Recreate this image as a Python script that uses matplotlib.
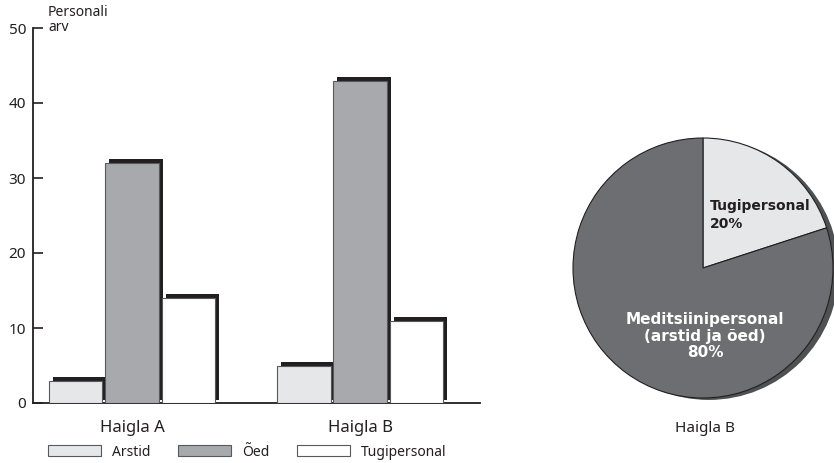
import numpy as np
import matplotlib
matplotlib.use("Agg")
import matplotlib.pyplot as plt
from matplotlib.patches import Patch, Circle

plt.rcParams["font.family"] = ["Noto Sans", "DejaVu Sans"]

# ------------------------------------------------------------
# Data
# ------------------------------------------------------------
hospitals = ["Haigla A", "Haigla B"]
series = ["Arstid", "Õed", "Tugipersonal"]
arstid = [3, 5]
oed = [32, 43]
tugi = [14, 11]

pie_labels = ["Tugipersonal\n20%", "Meditsiinipersonal\n(arstid ja õed)\n80%"]
pie_values = [20, 80]

bar_colors = ["#e6e7e8", "#a7a9ac", "#ffffff"]
dark = "#231f20"

W, H = 834, 463
fig = plt.figure(figsize=(W / 100, H / 100), dpi=100)

# ------------------------------------------------------------
# Bar chart
# ------------------------------------------------------------
ax = fig.add_axes([33 / W, 1 - 403 / H, (480 - 33) / W, (403 - 28) / H])
x = np.arange(len(hospitals))
width = 0.233
step = 0.246
dx = 4 / 228
dy = 4 / 7.5

for i, (vals, col) in enumerate(zip([arstid, oed, tugi], bar_colors)):
    pos = x + (i - 1) * step
    vals = np.array(vals, dtype=float)
    # shadow
    ax.bar(pos + dx, vals + dy - 0.4, width, bottom=0.4, color=dark,
           linewidth=0, align="center", zorder=2)
    ax.bar(pos, vals, width, color=col, edgecolor="#58595b",
           linewidth=0.8, zorder=3)

ax.set_xlim(-0.434, 1.526)
ax.set_ylim(0, 50)
ax.set_yticks(range(0, 51, 10))
ax.tick_params(axis="y", direction="in", length=7, width=1.2,
               color=dark, labelsize=11, pad=5, labelcolor=dark)
ax.set_xticks(x)
ax.set_xticklabels(hospitals)
ax.tick_params(axis="x", length=0, labelsize=12, pad=12, labelcolor=dark)
for s in ["top", "right"]:
    ax.spines[s].set_visible(False)
for s in ["left", "bottom"]:
    ax.spines[s].set_linewidth(1.3)
    ax.spines[s].set_color(dark)

fig.text(48 / W, 1 - 20 / H, "Personali\narv", fontsize=10, color=dark,
         ha="left", va="center", linespacing=0.95)

# legend
handles = [Patch(facecolor=c, edgecolor="#58595b", linewidth=0.8)
           for c in bar_colors]
fig.legend(handles, series, loc="center left",
           bbox_to_anchor=(48 / W, 1 - 452 / H), ncol=3, frameon=False,
           fontsize=10, handlelength=3.8, handleheight=0.85,
           handletextpad=0.8, columnspacing=2.0, borderpad=0,
           borderaxespad=0, labelcolor=dark)

# ------------------------------------------------------------
# Pie chart
# ------------------------------------------------------------
cx, cy, r = 703, 268, 130
pax = fig.add_axes([560 / W, 1 - 410 / H, (834 - 560) / W, 280 / H])
pax.axis("off")

pax.add_patch(Circle((0.045, -0.015), 1.0, facecolor="#505153",
                     edgecolor="none", zorder=1))
wedges, _ = pax.pie(pie_values, startangle=90, counterclock=False,
                    colors=["#e6e7e8", "#6d6e71"],
                    wedgeprops=dict(edgecolor=dark, linewidth=0.8))
for w in wedges:
    w.set_zorder(2)
pax.set_xlim((560 - cx) / r, (834 - cx) / r)
pax.set_ylim((cy - 410) / r, (cy - 130) / r)
pax.set_aspect("auto")

pax.text((710 - cx) / r, (cy - 215) / r, pie_labels[0], ha="left",
         va="center", fontsize=10, fontweight="bold", color=dark,
         family=["DejaVu Sans"], zorder=3, linespacing=1.3)
pax.text((705 - cx) / r, (cy - 336) / r, pie_labels[1], ha="center",
         va="center", fontsize=11, fontweight="bold", color="white",
         family=["DejaVu Sans"], zorder=3, linespacing=1.1)

fig.text(705 / W, 1 - 428 / H, "Haigla B", fontsize=11, color=dark,
         ha="center", va="center")

fig.savefig("out.png", dpi=100)
